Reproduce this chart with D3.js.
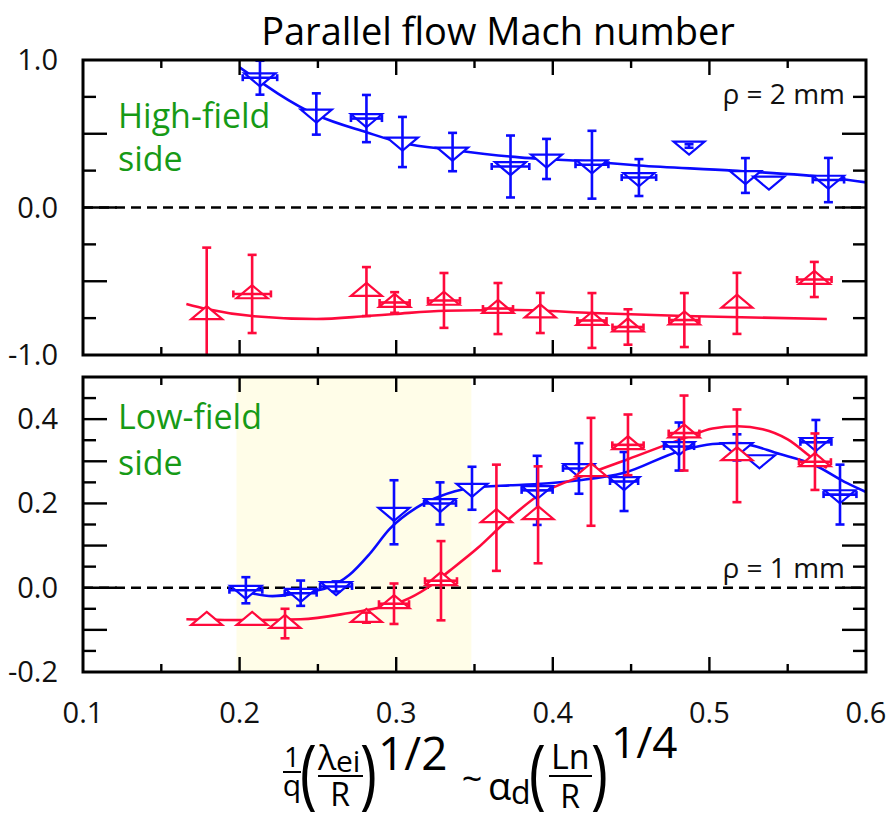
<!DOCTYPE html>
<html><head><meta charset="utf-8">
<script src="https://cdn.jsdelivr.net/npm/d3@7"></script>
<style>body{margin:0;background:#fff}svg{display:block}text{font-family:'Open Sans',sans-serif}</style>
</head><body>
<svg id="c" width="888" height="818"></svg>
<script>
// ---------- data ----------
const xTicks = [0.1,0.2,0.3,0.4,0.5,0.6];
const xTickLabels = ["0.1","0.2","0.3","0.4","0.5","0.6"];
const topYTicks = [1.0,0.0,-1.0];
const topYTickLabels = ["1.0","0.0","-1.0"];
const botYTicks = [0.4,0.2,0.0,-0.2];
const botYTickLabels = ["0.4","0.2","0.0","-0.2"];
const shadeRange = [0.198,0.348];

// High-field side (top panel)
const blueTopX   = [0.213,0.249,0.281,0.304,0.336,0.373,0.396,0.425,0.455,0.487,0.523,0.538,0.576];
const blueTopY   = [0.88,0.634,0.603,0.444,0.376,0.278,0.329,0.29,0.203,0.417,0.217,0.18,0.186];
const blueTopErr = [0.115,0.14,0.16,0.17,0.13,0.21,0.136,0.23,0.125,0.012,0.118,0,0.15];
const blueTopXErr= [0.011,0,0.0099,0,0,0.012,0,0.0105,0.011,0,0,0,0.010];
const blueTopFitX = [0.2,0.249,0.281,0.304,0.336,0.373,0.425,0.455,0.515,0.579,0.6];
const blueTopFitY = [0.95,0.627,0.51,0.437,0.39,0.345,0.31,0.285,0.25,0.2,0.17];

const redTopX   = [0.179,0.208,0.281,0.299,0.3305,0.365,0.392,0.425,0.448,0.484,0.5176,0.567];
const redTopY   = [-0.727,-0.586,-0.57,-0.644,-0.63,-0.685,-0.715,-0.766,-0.81,-0.763,-0.65,-0.488];
const redTopErr = [0.455,0.265,0.166,0.07,0.186,0.173,0.136,0.186,0.12,0.183,0.207,0.119];
const redTopXErr= [0,0.012,0,0.0096,0.0102,0.0096,0,0.0093,0.0099,0.0096,0,0.011];
const redTopFitX = [0.166,0.179,0.208,0.249,0.281,0.299,0.331,0.377,0.425,0.484,0.575];
const redTopFitY = [-0.654,-0.688,-0.736,-0.756,-0.736,-0.722,-0.70,-0.695,-0.715,-0.736,-0.756];

// Low-field side (bottom panel)
const blueBotX   = [0.204,0.239,0.2616,0.2986,0.328,0.3484,0.39,0.4167,0.4455,0.4806,0.5176,0.532,0.568,0.5834];
const blueBotY   = [-0.006,-0.013,0.003,0.179,0.2,0.236,0.231,0.283,0.252,0.335,0.333,0.304,0.345,0.221];
const blueBotErr = [0.031,0.03,0.012,0.076,0.05,0.051,0.082,0.06,0.07,0.057,0.031,0,0.053,0.071];
const blueBotXErr= [0.0105,0.0102,0.0102,0,0.0102,0,0.0099,0.0102,0.009,0.0096,0,0,0.0099,0.0105];
const blueBotFitX = [0.202,0.221,0.239,0.256,0.27,0.283,0.296,0.313,0.328,0.347,0.373,0.39,0.417,0.445,0.481,0.502,0.518,0.545,0.566,0.588,0.6];
const blueBotFitY = [-0.008,-0.02,-0.012,0.0,0.03,0.08,0.14,0.19,0.217,0.236,0.243,0.246,0.255,0.272,0.324,0.341,0.343,0.317,0.293,0.248,0.227];

const redBotX   = [0.179,0.208,0.229,0.281,0.2986,0.3286,0.364,0.3906,0.4244,0.448,0.4838,0.5176,0.5674];
const redBotY   = [-0.078,-0.078,-0.085,-0.071,-0.038,0.0166,0.166,0.173,0.275,0.339,0.367,0.313,0.299];
const redBotErr = [0,0,0.035,0.012,0.048,0.094,0.126,0.115,0.128,0.072,0.089,0.11,0.067];
const redBotXErr= [0,0,0,0,0.0096,0.0102,0,0,0,0.010,0.0098,0,0.0102];
const redBotFitX = [0.166,0.208,0.239,0.27,0.288,0.304,0.32,0.334,0.352,0.371,0.39,0.424,0.448,0.484,0.502,0.518,0.534,0.55,0.566,0.575];
const redBotFitY = [-0.075,-0.077,-0.075,-0.06,-0.048,-0.032,0.0,0.04,0.094,0.16,0.217,0.272,0.305,0.355,0.378,0.383,0.376,0.352,0.307,0.284];

// ---------- drawing ----------
const BLUE = "#0a0aff", RED = "#ff0a3c", GREEN = "#169a16";
const svg = d3.select("#c");
const L = 83, R = 866;
const x = d3.scaleLinear().domain([0.1,0.6]).range([L,R]);
const panels = [
  {y: d3.scaleLinear().domain([-1,1]).range([355,60]), major:0.5, minor:0.25,
   ticks: topYTicks, labels: topYTickLabels, id:"top"},
  {y: d3.scaleLinear().domain([-0.2,0.5]).range([672,377]), major:0.1, minor:0.05,
   ticks: botYTicks, labels: botYTickLabels, id:"bot"}
];

// title
svg.append("text").attr("x",498).attr("y",45).attr("text-anchor","middle")
  .attr("font-size",38).attr("fill","#000").text("Parallel flow Mach number");

function triPath(up){
  const w=15.5,h=13;
  return up ? `M0,${-2*h/3}L${w},${h/3}L${-w},${h/3}Z` : `M0,${2*h/3}L${w},${-h/3}L${-w},${-h/3}Z`;
}

function drawSeries(g, y, X, Y, E, XE, color, up){
  const pts = X.map((d,i)=>({x:d,y:Y[i],e:E[i],xe:XE[i]}));
  const mk = g.append("g");
  mk.selectAll("path").data(pts).join("path")
    .attr("transform",d=>`translate(${x(d.x)},${y(d.y)})`)
    .attr("d",triPath(up)).attr("fill","#fff").attr("stroke",color).attr("stroke-width",2.2)
    .attr("stroke-linejoin","miter");
  const eb = g.append("g").attr("stroke",color).attr("stroke-width",2.6).attr("fill","none");
  pts.filter(d=>d.e>0).forEach(d=>{
    const cx=x(d.x), y1=y(d.y+d.e), y2=y(d.y-d.e);
    eb.append("line").attr("x1",cx).attr("x2",cx).attr("y1",y1).attr("y2",y2);
    eb.append("line").attr("x1",cx-4.5).attr("x2",cx+4.5).attr("y1",y1).attr("y2",y1);
    eb.append("line").attr("x1",cx-4.5).attr("x2",cx+4.5).attr("y1",y2).attr("y2",y2);
  });
  pts.filter(d=>d.xe>0).forEach(d=>{
    const cy=y(d.y), x1=x(d.x-d.xe), x2=x(d.x+d.xe);
    eb.append("line").attr("x1",x1).attr("x2",x2).attr("y1",cy).attr("y2",cy);
    eb.append("line").attr("x1",x1).attr("x2",x1).attr("y1",cy-3.5).attr("y2",cy+3.5);
    eb.append("line").attr("x1",x2).attr("x2",x2).attr("y1",cy-3.5).attr("y2",cy+3.5);
  });
}

function drawFit(g, y, X, Y, color){
  const line = d3.line().x(d=>x(d[0])).y(d=>y(d[1])).curve(d3.curveMonotoneX);
  g.append("path").attr("d",line(X.map((d,i)=>[d,Y[i]])))
    .attr("fill","none").attr("stroke",color).attr("stroke-width",2.6);
}

panels.forEach((p,pi)=>{
  const y=p.y;
  const [yb,yt]=y.range();
  const defs = svg.append("defs");
  defs.append("clipPath").attr("id","clip"+p.id).append("rect")
    .attr("x",L).attr("y",yt).attr("width",R-L).attr("height",yb-yt);
  const g = svg.append("g").attr("clip-path",`url(#clip${p.id})`);
  if(pi===1){
    g.append("rect").attr("x",x(shadeRange[0])).attr("width",x(shadeRange[1])-x(shadeRange[0]))
      .attr("y",yt).attr("height",yb-yt).attr("fill","#fffde8");
  }
  g.append("line").attr("x1",L).attr("x2",R).attr("y1",y(0)).attr("y2",y(0))
    .attr("stroke","#000").attr("stroke-width",2.4).attr("stroke-dasharray","10,6");
  if(pi===0){
    drawFit(g,y,redTopFitX,redTopFitY,RED);
    drawFit(g,y,blueTopFitX,blueTopFitY,BLUE);
    drawSeries(g,y,redTopX,redTopY,redTopErr,redTopXErr,RED,true);
    drawSeries(g,y,blueTopX,blueTopY,blueTopErr,blueTopXErr,BLUE,false);
  } else {
    drawFit(g,y,blueBotFitX,blueBotFitY,BLUE);
    drawFit(g,y,redBotFitX,redBotFitY,RED);
    drawSeries(g,y,blueBotX,blueBotY,blueBotErr,blueBotXErr,BLUE,false);
    drawSeries(g,y,redBotX,redBotY,redBotErr,redBotXErr,RED,true);
  }
  // ticks
  const ax = svg.append("g").attr("stroke","#000").attr("stroke-width",2.4);
  const [d0,d1]=y.domain();
  const nMin = Math.round((d1-d0)/p.minor);
  for(let i=1;i<nMin;i++){
    const v=d0+i*p.minor;
    const isMaj = Math.abs(v/p.major-Math.round(v/p.major))<1e-6;
    const len = Math.abs(v)<1e-9 ? 34 : (isMaj?24:13);
    const lenR = Math.abs(v)<1e-9 ? 24 : (isMaj?24:13);
    ax.append("line").attr("x1",L).attr("x2",L+len).attr("y1",y(v)).attr("y2",y(v));
    ax.append("line").attr("x1",R).attr("x2",R-lenR).attr("y1",y(v)).attr("y2",y(v));
  }
  for(let i=1;i<10;i++){
    const v=0.1+i*0.05;
    const len = i%2===0?15:8;
    ax.append("line").attr("x1",x(v)).attr("x2",x(v)).attr("y1",yt).attr("y2",yt+len);
    ax.append("line").attr("x1",x(v)).attr("x2",x(v)).attr("y1",yb).attr("y2",yb-len);
  }
  // frame
  svg.append("rect").attr("x",L).attr("y",yt).attr("width",R-L).attr("height",yb-yt)
    .attr("fill","none").attr("stroke","#000").attr("stroke-width",3);
  // y labels
  svg.append("g").selectAll("text").data(p.ticks).join("text")
    .attr("x",58).attr("y",d=>y(d)+10).attr("text-anchor","end").attr("font-size",29)
    .attr("fill","#111").text((d,i)=>p.labels[i]);
});

// x labels
svg.append("g").selectAll("text").data(xTicks).join("text")
  .attr("x",d=>x(d)).attr("y",723).attr("text-anchor","middle").attr("font-size",29)
  .attr("fill","#111").text((d,i)=>xTickLabels[i]);

// annotations
const ann = [
  {t:"High-field",x:118,y:128,c:GREEN,s:34},{t:"side",x:118,y:171,c:GREEN,s:34},
  {t:"Low-field",x:118,y:429,c:GREEN,s:34},{t:"side",x:118,y:475,c:GREEN,s:34},
  {t:"ρ = 2 mm",x:845,y:104,c:"#111",s:28,a:"end"},{t:"ρ = 1 mm",x:845,y:578,c:"#111",s:28,a:"end"}
];
ann.forEach(a=>svg.append("text").attr("x",a.x).attr("y",a.y).attr("fill",a.c)
  .attr("font-size",a.s).attr("text-anchor",a.a||"start").text(a.t));

// x-axis label (math)
const xl = svg.append("g").attr("fill","#000");
function t(str,xx,yy,s,anchor,sx){
  const e = xl.append("text").attr("font-size",s).attr("text-anchor",anchor||"start").text(str);
  if(sx){ e.attr("transform",`translate(${xx},${yy}) scale(${sx},1)`); }
  else { e.attr("x",xx).attr("y",yy); }
}
function bar(x1,x2,yy){xl.append("line").attr("x1",x1).attr("x2",x2).attr("y1",yy).attr("y2",yy)
  .attr("stroke","#000").attr("stroke-width",2);}
t("1",292,767,28,"middle"); bar(283,301,772); t("q",292,796,30,"middle");
t("(",300,800,76,"start",0.75);
t("λ",318,770,34); t("ei",336,772,30); bar(318,363,776); t("R",340,806,32,"middle");
t(")",360,800,76,"start",0.75);
t("1/2",378,770,46);
t("~",472,792,36,"middle");
t("α",488,800,38); t("d",511,804,32);
t("(",529,800,76,"start",0.75);
t("Ln",551,769,34); bar(549,592,776); t("R",570,808,32,"middle");
t(")",591,800,76,"start",0.75);
t("1/4",611,758,44);
</script>
</body></html>
